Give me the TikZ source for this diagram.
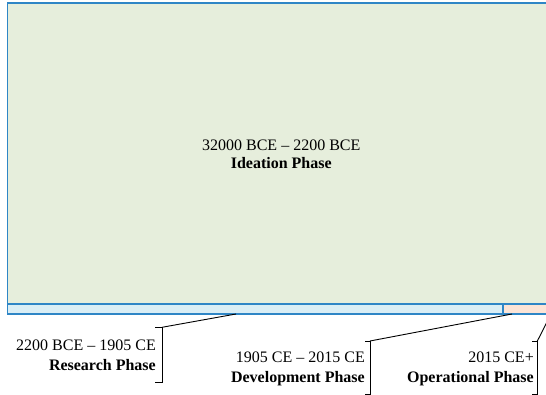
\documentclass[tikz,border=0pt]{standalone}
\usepackage{fontspec}
\setmainfont{Liberation Serif}
\definecolor{bordblue}{HTML}{2F86C6}
\definecolor{sage}{HTML}{E6EEDC}
\definecolor{paleblue}{HTML}{DAEEF5}
\definecolor{peach}{HTML}{FCE4D6}
\begin{document}
\begin{tikzpicture}[x=1pt,y=-1pt,
  phase/.style={draw=bordblue,line width=1.7pt,inner sep=0pt,outer sep=0pt},
  lbl/.style={align=right,inner sep=0pt,font=\fontsize{16}{20}\selectfont},
  brk/.style={draw=black,line width=0.9pt}]
\useasboundingbox (0,0) rectangle (546,395);
\clip (0,0) rectangle (546,395);
% main blocks
\node[phase,fill=sage,minimum width=547.5pt,minimum height=301pt,anchor=north west,
  align=center,font=\fontsize{16}{18}\selectfont] (ideation) at (7.5,3.3)
  {32000 BCE – 2200 BCE\\\textbf{Ideation Phase}};
\node[phase,fill=paleblue,minimum width=495.5pt,minimum height=9.7pt,anchor=north west] (resbar) at (7.5,304.3) {};
\node[phase,fill=peach,minimum width=52pt,minimum height=9.7pt,anchor=north west] (opbar) at (503,304.3) {};
% labels
\node[lbl,anchor=east] (res) at (156,355) {2200 BCE – 1905 CE\\\textbf{Research Phase}};
\node[lbl,anchor=east] (dev) at (365,368.5) {1905 CE – 2015 CE\\\textbf{Development Phase}};
\node[lbl,anchor=east] (op) at (534,369) {2015 CE+\\\textbf{Operational Phase}};
% bracket corners and leader ends
\coordinate (rt) at (162,327.3);
\coordinate (rb) at (162,382);
\coordinate (dt) at (370,341);
\coordinate (db) at (370,394);
\coordinate (ot) at (537,341.7);
\coordinate (ob) at (537,394);
\coordinate (rend) at (236,314);
\coordinate (dend) at (512,314);
\coordinate (oend) at (551,314);
% brackets
\draw[brk] ([xshift=-7pt]rt) -- (rt) -- (rb) -- ([xshift=-7pt]rb);
\draw[brk] ([xshift=-5pt]dt) -- (dt) -- (db) -- ([xshift=-5pt]db);
\draw[brk] ([xshift=-5pt]ot) -- (ot) -- (ob) -- ([xshift=-5pt]ob);
% leaders
\draw[brk] (rt) -- (rend);
\draw[brk] (dt) -- (dend);
\draw[brk] (ot) -- (oend);
\end{tikzpicture}
\end{document}
